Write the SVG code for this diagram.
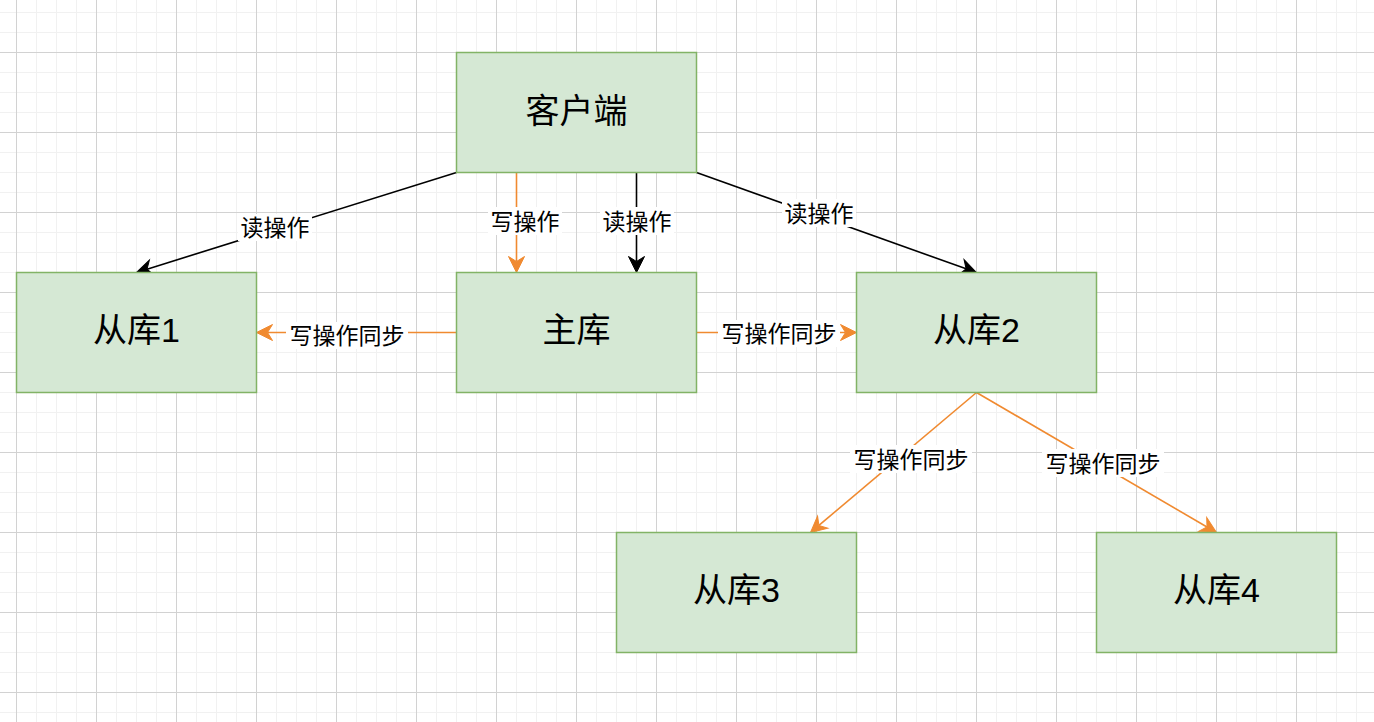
<svg xmlns="http://www.w3.org/2000/svg" width="1374" height="722" viewBox="0 0 1374 722">
  <style>
    .node rect { fill: #d5e8d4; stroke: #82b366; stroke-width: 1.5; }
    .node text { font-family: "Liberation Sans", "Noto Sans CJK SC", sans-serif; font-size: 34px; fill: #000; text-anchor: middle; }
    .edge { fill: none; stroke-width: 1.6; }
    .blk { stroke: #000; }
    .org { stroke: #f08a30; }
    .lbl rect { fill: #fff; stroke: none; }
    .lbl text { font-family: "Liberation Sans", "Noto Sans CJK SC", sans-serif; font-size: 23px; fill: #000; text-anchor: middle; }
  </style>
  <defs>
    <pattern id="grid" x="16" y="52" width="80" height="80" patternUnits="userSpaceOnUse">
      <path d="M20.5 0V80M40.5 0V80M60.5 0V80M0 20.5H80M0 40.5H80M0 60.5H80" stroke="#f1f1f1" stroke-width="1" fill="none"/>
      <path d="M0.5 0V80M0 0.5H80" stroke="#d2d2d2" stroke-width="1" fill="none"/>
    </pattern>
    <marker id="aB" markerUnits="userSpaceOnUse" markerWidth="20" markerHeight="20" refX="0" refY="0" orient="auto" overflow="visible">
      <path d="M11,0 L-5,-8 L0,0 L-5,8 Z" fill="#000" stroke="#000" stroke-width="1" stroke-linejoin="miter"/>
    </marker>
    <marker id="aO" markerUnits="userSpaceOnUse" markerWidth="20" markerHeight="20" refX="0" refY="0" orient="auto" overflow="visible">
      <path d="M11,0 L-5,-8 L0,0 L-5,8 Z" fill="#f08a30" stroke="#f08a30" stroke-width="1" stroke-linejoin="miter"/>
    </marker>
  </defs>
  <rect x="0" y="0" width="1374" height="722" fill="#fff"/>
  <rect x="0" y="0" width="1374" height="722" fill="url(#grid)"/>

  <g id="connectors">
    <line class="edge blk" x1="456.5" y1="172.5" x2="147" y2="269.2" marker-end="url(#aB)"/>
    <line class="edge org" x1="516.5" y1="172.5" x2="516.5" y2="261.5" marker-end="url(#aO)"/>
    <line class="edge blk" x1="636.5" y1="172.5" x2="636.5" y2="261.5" marker-end="url(#aB)"/>
    <line class="edge blk" x1="696.5" y1="172.5" x2="966.1" y2="268.8" marker-end="url(#aB)"/>
    <line class="edge org" x1="456.5" y1="332.5" x2="267.5" y2="332.5" marker-end="url(#aO)"/>
    <line class="edge org" x1="696.5" y1="332.5" x2="845.5" y2="332.5" marker-end="url(#aO)"/>
    <line class="edge org" x1="976.5" y1="392.5" x2="818.9" y2="525.4" marker-end="url(#aO)"/>
    <line class="edge org" x1="976.5" y1="392.5" x2="1207" y2="527" marker-end="url(#aO)"/>

    <g class="lbl">
      <rect x="238" y="214" width="74" height="27"/>
      <text x="275" y="236">读操作</text>
      <rect x="488" y="207" width="74" height="28"/>
      <text x="525" y="229.5">写操作</text>
      <rect x="600" y="207" width="74" height="28"/>
      <text x="637" y="229.5">读操作</text>
      <rect x="782" y="199" width="74" height="28"/>
      <text x="819" y="221.5">读操作</text>
      <rect x="286" y="322" width="122" height="27"/>
      <text x="347" y="344">写操作同步</text>
      <rect x="718" y="320" width="122" height="27"/>
      <text x="779" y="342">写操作同步</text>
      <rect x="850" y="445" width="122" height="28"/>
      <text x="911" y="467.5">写操作同步</text>
      <rect x="1042" y="449" width="122" height="28"/>
      <text x="1103" y="471.5">写操作同步</text>
    </g>
  </g>

  <g id="client" class="node">
    <rect x="456.5" y="52.5" width="240" height="120"/>
    <text x="576.5" y="123">客户端</text>
  </g>
  <g id="master" class="node">
    <rect x="456.5" y="272.5" width="240" height="120"/>
    <text x="576.5" y="342">主库</text>
  </g>
  <g id="slave1" class="node">
    <rect x="16.5" y="272.5" width="240" height="120"/>
    <text x="136.5" y="342">从库1</text>
  </g>
  <g id="slave2" class="node">
    <rect x="856.5" y="272.5" width="240" height="120"/>
    <text x="976.5" y="342">从库2</text>
  </g>
  <g id="slave3" class="node">
    <rect x="616.5" y="532.5" width="240" height="120"/>
    <text x="736.5" y="602">从库3</text>
  </g>
  <g id="slave4" class="node">
    <rect x="1096.5" y="532.5" width="240" height="120"/>
    <text x="1216.5" y="602">从库4</text>
  </g>
</svg>
